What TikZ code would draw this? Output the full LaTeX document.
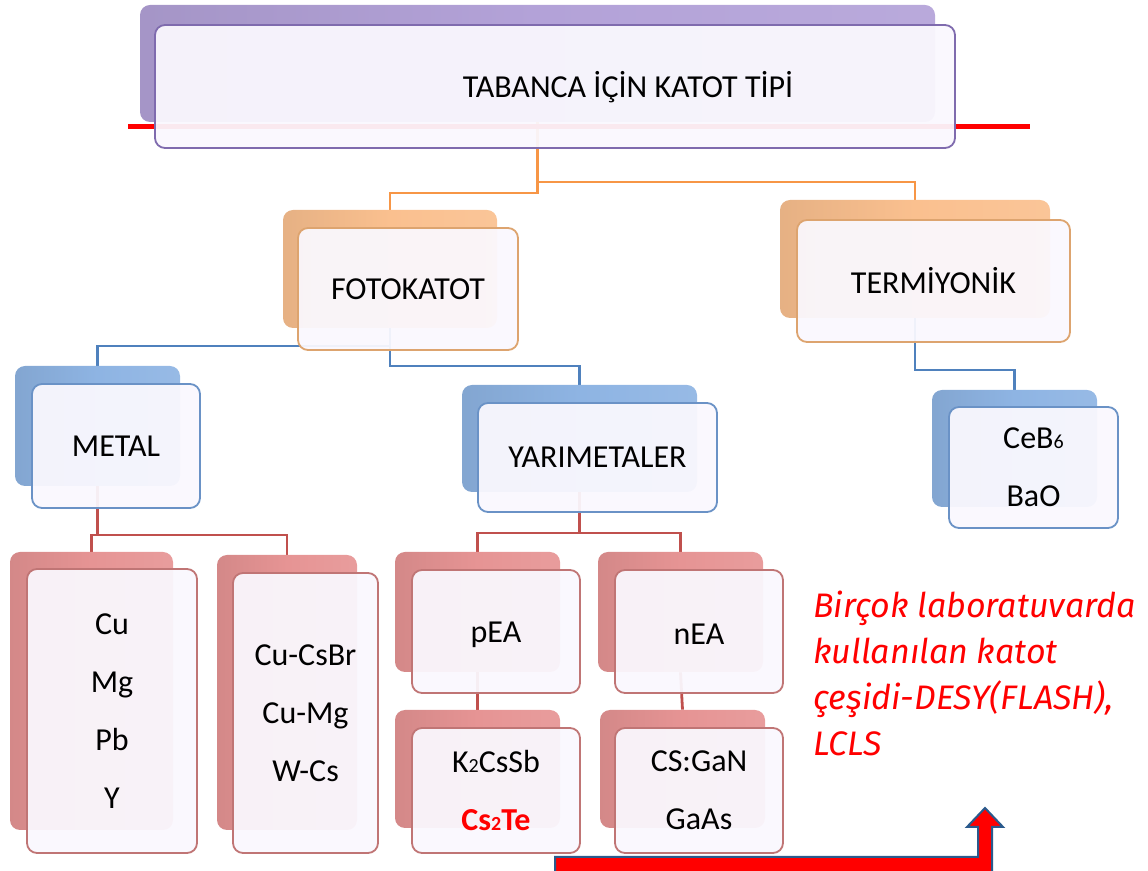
\documentclass[tikz,border=0pt]{standalone}
\usepackage{fontspec}
\setmainfont{Carlito}
\newfontfamily\notefont{Fira Sans}
\usetikzlibrary{fit,backgrounds}

\definecolor{purpback}{HTML}{B3A2D8}
\definecolor{purpedge}{HTML}{7F6BAE}
\definecolor{orngback}{HTML}{FAC08F}
\definecolor{orngline}{HTML}{F79646}
\definecolor{orngedge}{HTML}{DDA46F}
\definecolor{blueback}{HTML}{8EB4E3}
\definecolor{blueline}{HTML}{4F81BD}
\definecolor{blueedge}{HTML}{6A92C6}
\definecolor{redback}{HTML}{E69494}
\definecolor{redline}{HTML}{C0504D}
\definecolor{rededge}{HTML}{C07575}
\definecolor{frontfill}{HTML}{FAF8FE}
\definecolor{arrowedge}{HTML}{2A5A8C}

\newcommand{\chemsub}[1]{{\fontsize{10}{10}\selectfont #1}}

\tikzset{
  backbox/.style={rounded corners=5pt, inner sep=0pt, draw=none,
    left color=#1!92!black, right color=#1!92!white, middle color=#1},
  frontbox/.style={rounded corners=5pt, inner sep=0pt, line width=0.9pt,
    draw=#1, fill=frontfill, fill opacity=0.94},
  boxtext/.style={align=center},
  link/.style={line width=1.4pt, draw=#1},
}

\begin{document}
\begin{tikzpicture}[x=0.5pt, y=-0.5pt, font=\fontsize{16}{29}\selectfont]
  \clip (0,0) rectangle (1148,871);
  % back layer of every box
  \node[backbox=purpback, fit={(140,5) (935,122)}] (tipB) {};
  \node[backbox=orngback, fit={(283,210) (497,328)}] (fotoB) {};
  \node[backbox=orngback, fit={(780,200) (1050,318)}] (termB) {};
  \node[backbox=blueback, fit={(15,366) (180,486)}] (metalB) {};
  \node[backbox=blueback, fit={(462,385) (697,492)}] (yariB) {};
  \node[backbox=blueback, fit={(932,390) (1097,507)}] (cebB) {};
  \node[backbox=redback, fit={(10,552) (173,830)}] (cuB) {};
  \node[backbox=redback, fit={(217,555) (357,830)}] (cucsB) {};
  \node[backbox=redback, fit={(395,552) (560,672)}] (peaB) {};
  \node[backbox=redback, fit={(598,552) (763,672)}] (neaB) {};
  \node[backbox=redback, fit={(395,710) (560,828)}] (k2B) {};
  \node[backbox=redback, fit={(600,710) (765,828)}] (csgB) {};
  % red rule under the title
  \draw[red, line width=2.5pt] (128,127) -- (1030,127);
  % front layer
  \node[frontbox=purpedge, fit={(155,25) (955,148)}] (tip) {};
  \node[frontbox=orngedge, fit={(298,228) (518,350)}] (foto) {};
  \node[frontbox=orngedge, fit={(797,220) (1070,342)}] (term) {};
  \node[frontbox=blueedge, fit={(32,384) (200,508)}] (metal) {};
  \node[frontbox=blueedge, fit={(478,403) (717,512)}] (yari) {};
  \node[frontbox=blueedge, fit={(949,407) (1118,528)}] (ceb) {};
  \node[frontbox=rededge, fit={(27,569) (197,853)}] (cu) {};
  \node[frontbox=rededge, fit={(233,573) (378,853)}] (cucs) {};
  \node[frontbox=rededge, fit={(412,570) (580,693)}] (pea) {};
  \node[frontbox=rededge, fit={(615,570) (783,693)}] (nea) {};
  \node[frontbox=rededge, fit={(412,728) (580,853)}] (k2) {};
  \node[frontbox=rededge, fit={(615,728) (783,853)}] (csg) {};
  % box texts
  \node (tiptext) at (628,87) {TABANCA İÇİN KATOT TİPİ};
  \node[boxtext] (fototext) at (foto.center) {FOTOKATOT};
  \node[boxtext] (termtext) at (term.center) {TERMİYONİK};
  \node[boxtext] (metaltext) at (metal.center) {METAL};
  \node[boxtext] (yaritext) at (yari.center) {YARIMETALER};
  \node[boxtext] (cebtext) at (ceb.center) {CeB\chemsub{6}\\BaO};
  \node[boxtext] (cutext) at (cu.center) {Cu\\Mg\\Pb\\Y};
  \node[boxtext] (cucstext) at (cucs.center) {Cu-CsBr\\Cu-Mg\\W-Cs};
  \node[boxtext, yshift=-1.5pt] (peatext) at (pea.center) {pEA};
  \node[boxtext, yshift=-1.5pt] (neatext) at (nea.center) {nEA};
  \node[boxtext] (k2text) at (k2.center) {K\chemsub{2}CsSb\\\textcolor{red}{\bfseries Cs\chemsub{2}Te}};
  \node[boxtext] (csgtext) at (csg.center) {CS:GaN\\GaAs};
  % connectors
  \begin{scope}[on background layer]
    \draw[link=orngline] (tipB.south) -- (tipB.south |- 0,193) -| (fotoB.north);
    \draw[link=orngline] (tipB.south) -- (tipB.south |- 0,182) -| (termB.north);
    \draw[link=blueline] (fotoB.south) -- (fotoB.south |- 0,346) -| (metalB.north);
    \draw[link=blueline] (fotoB.south) -- (fotoB.south |- 0,366) -| (yariB.north);
    \draw[link=blueline] (termB.south) -- (termB.south |- 0,370) -| (cebB.north);
    \draw[link=redline] (metalB.south) -- (metalB.south |- 0,535) -| (cuB.north);
    \draw[link=redline] (metalB.south |- 0,535) -| (cucsB.north);
    \draw[link=redline] (yariB.south) -- (yariB.south |- 0,533) -| (peaB.north);
    \draw[link=redline] (yariB.south |- 0,533) -| (neaB.north);
    \draw[link=redline] (peaB.south) -- (k2B.north);
    \draw[link=redline] (neaB.south) -- (csgB.north);
  \end{scope}
  % note and arrow
  \node[anchor=north west, inner sep=0pt, align=left, text=red,
    font=\notefont\itshape\fontsize{17}{23}\selectfont] (note) at (813,591)
    {Birçok laboratuvarda\\kullanılan katot\\çeşidi-DESY(FLASH),\\LCLS};
  \filldraw[fill=red, draw=arrowedge, line width=1pt]
    (555,857) -- (978,857) -- (978,827) -- (967,827) -- (985,808)
    -- (1003,827) -- (992,827) -- (992,880) -- (555,880) -- cycle;
\end{tikzpicture}
\end{document}
